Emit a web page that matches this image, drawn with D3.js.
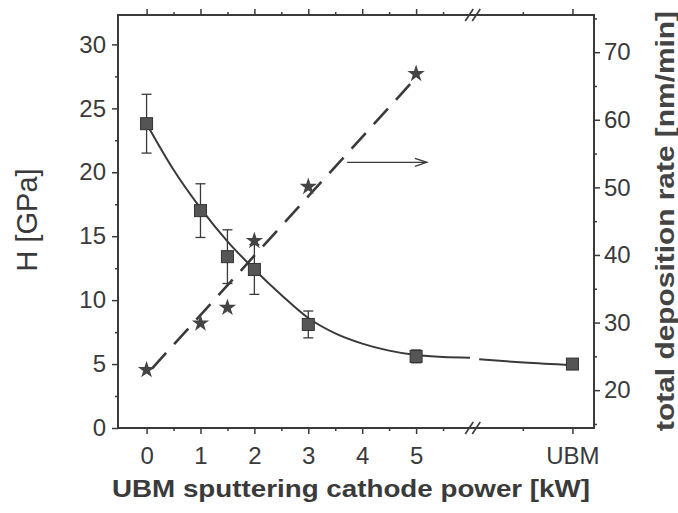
<!DOCTYPE html>
<html><head><meta charset="utf-8">
<script src="https://cdn.jsdelivr.net/npm/d3@7"></script>
<style>body{margin:0;background:#fff}svg{display:block}</style>
</head><body>
<script>
// ---- data ----
const xCategories = ["0","1","2","3","4","5","UBM"];
const xCategoryPos = [0,1,2,3,4,5,7.9];
const xMinorTicks = [0.5,1.5,2.5,3.5,4.5,5.5,6.98];
const xBreak = 6.06;

const hX   = [0, 1, 1.5, 2, 3, 5, 7.9];
const hVal = [23.8, 17.0, 13.4, 12.4, 8.1, 5.6, 5.0];
const hErr = [2.3, 2.1, 2.1, 1.95, 1.05, 0.5, 0.3];

const curveX1 = [0, 0.5, 1, 1.5, 2, 2.5, 3, 3.5, 4, 4.5, 5, 5.5, 6.0];
const curveH1 = [23.8, 20.2, 17.2, 14.6, 12.4, 10.4, 8.6, 7.4, 6.6, 6.05, 5.7, 5.55, 5.5];
const curveX2 = [6.17, 7.0, 7.9];
const curveH2 = [5.37, 5.12, 4.92];

const rateX   = [0, 1, 1.5, 2, 3, 5];
const rateVal = [23.0, 29.9, 32.2, 42.1, 50.1, 66.8];
const fitX    = [0.1, 4.95];
const fitRate = [23.2, 65.8];

const arrowX = [3.72, 5.2];
const arrowRate = [53.7, 53.7];

const leftMajor = [0,5,10,15,20,25,30];
const leftMinor = [2.5,7.5,12.5,17.5,22.5,27.5];
const rightMajor = [20,30,40,50,60,70];
const rightMinor = [15,25,35,45,55,65,75];

// ---- layout ----
const W = 678, H = 513;
const L = 118, R = 594, T = 15, B = 428;
const ink = "#3a3a3a";
const font = "'Liberation Sans', Arial, sans-serif";

const svg = d3.select("body").append("svg").attr("width", W).attr("height", H);

const x = d3.scaleLinear().domain([-0.53, 8.3]).range([L, R]);
const yL = d3.scaleLinear().domain([0, 32.3]).range([B, T]);
const yR = d3.scaleLinear().domain([14.4, 75.5]).range([B, T]);

function styleAxis(g) {
  g.selectAll(".domain").remove();
  g.selectAll("line").attr("stroke", ink).attr("stroke-width", 1.5);
  g.selectAll("text").attr("fill", ink).style("font-family", font).style("font-size", "24px");
}

// minor ticks
svg.append("g").attr("transform", `translate(${L},0)`)
  .call(d3.axisLeft(yL).tickValues(leftMinor).tickSize(3).tickFormat(""))
  .call(styleAxis);
svg.append("g").attr("transform", `translate(${R},0)`)
  .call(d3.axisRight(yR).tickValues(rightMinor).tickSize(3).tickFormat(""))
  .call(styleAxis);
svg.append("g").attr("transform", `translate(0,${B})`)
  .call(d3.axisBottom(x).tickValues(xMinorTicks).tickSize(3).tickFormat(""))
  .call(styleAxis);
svg.append("g").attr("transform", `translate(0,${T})`)
  .call(d3.axisTop(x).tickValues(xMinorTicks).tickSize(3).tickFormat(""))
  .call(styleAxis);

// major ticks
svg.append("g").attr("transform", `translate(${L},0)`)
  .call(d3.axisLeft(yL).tickValues(leftMajor).tickSize(6).tickPadding(6).tickFormat(d3.format("d")))
  .call(styleAxis);
svg.append("g").attr("transform", `translate(${R},0)`)
  .call(d3.axisRight(yR).tickValues(rightMajor).tickSize(6).tickPadding(4).tickFormat(d3.format("d")))
  .call(styleAxis);
svg.append("g").attr("transform", `translate(0,${B})`)
  .call(d3.axisBottom(x).tickValues(xCategoryPos).tickSize(6).tickPadding(13)
        .tickFormat((d,i) => xCategories[i]))
  .call(styleAxis);
svg.append("g").attr("transform", `translate(0,${T})`)
  .call(d3.axisTop(x).tickValues(xCategoryPos).tickSize(6).tickFormat(""))
  .call(styleAxis);

// frame
svg.append("rect").attr("x", L).attr("y", T).attr("width", R - L).attr("height", B - T)
  .attr("fill", "none").attr("stroke", ink).attr("stroke-width", 2);

// axis break marks
[T, B].forEach(yy => {
  const bx = x(xBreak);
  [-4, 3].forEach(off => {
    svg.append("line")
      .attr("x1", bx + off - 4).attr("y1", yy + 6)
      .attr("x2", bx + off + 4).attr("y2", yy - 6)
      .attr("stroke", ink).attr("stroke-width", 1.6);
  });
});

// hardness curve
const lineL = d3.line().x(d => x(d[0])).y(d => yL(d[1])).curve(d3.curveMonotoneX);
svg.append("path").datum(curveX1.map((v,i)=>[v, curveH1[i]]))
  .attr("d", lineL).attr("fill","none").attr("stroke", ink).attr("stroke-width", 2);
svg.append("path").datum(curveX2.map((v,i)=>[v, curveH2[i]]))
  .attr("d", lineL).attr("fill","none").attr("stroke", ink).attr("stroke-width", 2);

// rate fit (dashed)
const lineR = d3.line().x(d => x(d[0])).y(d => yR(d[1]));
svg.append("path").datum(fitX.map((v,i)=>[v, fitRate[i]]))
  .attr("d", lineR).attr("fill","none").attr("stroke", ink).attr("stroke-width", 2.6)
  .attr("stroke-dasharray", "21 12");

// error bars
const eb = svg.append("g").attr("stroke", ink).attr("stroke-width", 1.3);
hX.forEach((v,i) => {
  const cx = x(v), y1 = yL(hVal[i] + hErr[i]), y2 = yL(hVal[i] - hErr[i]);
  eb.append("line").attr("x1", cx).attr("x2", cx).attr("y1", y1).attr("y2", y2);
  eb.append("line").attr("x1", cx-5).attr("x2", cx+5).attr("y1", y1).attr("y2", y1);
  eb.append("line").attr("x1", cx-5).attr("x2", cx+5).attr("y1", y2).attr("y2", y2);
});

// squares
svg.append("g").selectAll("rect").data(hX).join("rect")
  .attr("x", d => x(d) - 6).attr("y", (d,i) => yL(hVal[i]) - 6)
  .attr("width", 12).attr("height", 12)
  .attr("fill", "#555").attr("stroke", "#333").attr("stroke-width", 1);

// stars
svg.append("g").selectAll("path").data(rateX).join("path")
  .attr("transform", (d,i) => `translate(${x(d)},${yR(rateVal[i])})`)
  .attr("d", d3.symbol(d3.symbolStar, 95))
  .attr("fill", "#444");

// arrow
const ax1 = x(arrowX[0]), ax2 = x(arrowX[1]), ay = yR(arrowRate[0]);
svg.append("line").attr("x1", ax1).attr("x2", ax2).attr("y1", ay).attr("y2", ay)
  .attr("stroke", ink).attr("stroke-width", 1.3);
svg.append("path").attr("d", `M${ax2-12},${ay-4} L${ax2},${ay} L${ax2-12},${ay+4}`)
  .attr("fill", "none").attr("stroke", ink).attr("stroke-width", 1.3);

// axis titles
svg.append("text").attr("x", 351).attr("y", 497).attr("text-anchor", "middle")
  .attr("fill", ink).style("font-family", font).style("font-size", "24px").style("font-weight", "bold")
  .attr("textLength", 478).attr("lengthAdjust", "spacingAndGlyphs")
  .text("UBM sputtering cathode power [kW]");
svg.append("text").attr("transform", "translate(37,220) rotate(-90)").attr("text-anchor", "middle")
  .attr("fill", ink).style("font-family", font).style("font-size", "29px")
  .text("H [GPa]");
svg.append("text").attr("transform", "translate(674,221) rotate(-90)").attr("text-anchor", "middle")
  .attr("fill", "#444").style("font-family", font).style("font-size", "25px").style("font-weight", "bold")
  .attr("textLength", 420).attr("lengthAdjust", "spacingAndGlyphs")
  .text("total deposition rate [nm/min]");
</script>
</body></html>
